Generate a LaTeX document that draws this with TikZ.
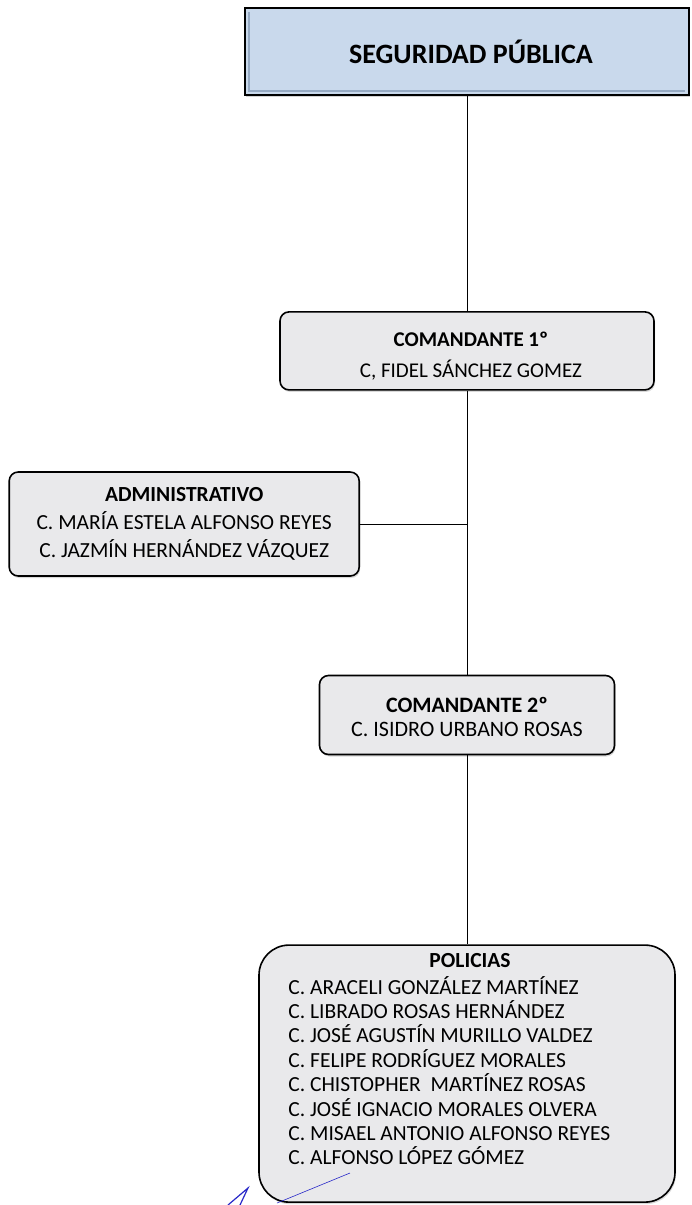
\documentclass[tikz,border=0pt]{standalone}
\usepackage{fontspec}
\setmainfont{Carlito}
\usetikzlibrary{positioning, shadows}
\definecolor{titlefill}{RGB}{201,217,236}
\definecolor{titleedge}{RGB}{150,170,195}
\definecolor{boxfill}{RGB}{233,233,235}
\definecolor{pen}{RGB}{40,40,200}

\begin{document}
\begin{tikzpicture}[
  x=1pt, y=-1pt,
  node distance=100pt,
  every node/.style={font=\fontsize{21.5}{28}\selectfont, align=center},
  titlebox/.style={draw, line width=2.2pt, fill=titlefill, inner sep=0pt,
    minimum width=444pt, minimum height=87pt,
    drop shadow={shadow xshift=1pt, shadow yshift=-2pt, opacity=0.35}},
  postbox/.style={draw, line width=1.6pt, rounded corners=9pt, fill=boxfill, inner sep=0pt,
    drop shadow={shadow xshift=1pt, shadow yshift=-2pt, opacity=0.3}},
  link/.style={line width=1pt}
]
\useasboundingbox (0,0) rectangle (691,1205);

% Title
\node (seg) [titlebox] at (467,51.5) {};
\draw[titleedge, line width=2pt] ([xshift=5pt,yshift=-5pt]seg.north west) -- ([xshift=5pt,yshift=5pt]seg.south west)
  -- ([xshift=-5pt,yshift=5pt]seg.south east);
\node (segtxt) [xshift=4pt] at (seg) {\fontsize{28}{32}\selectfont\bfseries SEGURIDAD PÚBLICA};

% Commanders
\node (com1) [postbox, minimum width=374pt, minimum height=78pt, below=215pt of seg] {};
\node (com1txt) [xshift=4pt, yshift=-5pt, font=\fontsize{21}{31}\selectfont] at (com1)
  {\textbf{COMANDANTE 1º}\\C, FIDEL SÁNCHEZ GOMEZ};
\node (com2) [postbox, minimum width=295pt, minimum height=79pt, below=284pt of com1] {};
\node (com2txt) [yshift=-2pt, font=\fontsize{22}{24.5}\selectfont] at (com2)
  {\textbf{COMANDANTE 2º}\\C. ISIDRO URBANO ROSAS};

% Administration branch
\coordinate (junc) at (468,524);
\node (adm) [postbox, minimum width=350pt, minimum height=104pt, left=108pt of junc]
  {\textbf{ADMINISTRATIVO}\\C. MARÍA ESTELA ALFONSO REYES\\C. JAZMÍN HERNÁNDEZ VÁZQUEZ};

% Police
\node (pol) [postbox, rounded corners=30pt, minimum width=416pt, minimum height=257pt, below=189pt of com2] {};
\node (polhead) at (470,961) {\textbf{POLICIAS}};
\node (polnames) [anchor=north west, inner sep=0pt, align=left, font=\fontsize{21.5}{24.4}\selectfont]
  at ([xshift=30pt]pol.west |- 0,976)
  {C. ARACELI GONZÁLEZ MARTÍNEZ\\
   C. LIBRADO ROSAS HERNÁNDEZ\\
   C. JOSÉ AGUSTÍN MURILLO VALDEZ\\
   C. FELIPE RODRÍGUEZ MORALES\\
   C. CHISTOPHER\ \ MARTÍNEZ ROSAS\\
   C. JOSÉ IGNACIO MORALES OLVERA\\
   C. MISAEL ANTONIO ALFONSO REYES\\
   C. ALFONSO LÓPEZ GÓMEZ};

% Connectors
\draw[link] (seg) -- (com1);
\draw[link] (com1) -- (com2);
\draw[link] (adm) -- (junc);
\draw[link] (com2) -- (pol);

% Signature
\draw[pen, line width=1.2pt] (228,1205) -- (248,1188) -- (240,1205);
\draw[pen, line width=0.6pt] (277,1203) -- (350,1173);
\end{tikzpicture}
\end{document}
